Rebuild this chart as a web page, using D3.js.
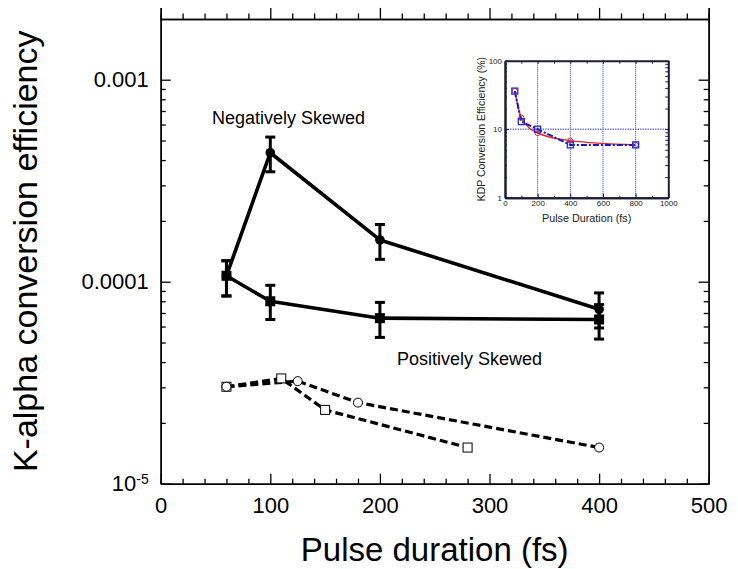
<!DOCTYPE html>
<html>
<head>
<meta charset="utf-8">
<script src="https://cdn.jsdelivr.net/npm/d3@7"></script>
<style>
  body { margin: 0; background: #fff; }
  svg { font-family: Arial, "Liberation Sans", sans-serif; }
</style>
</head>
<body>
<div id="chart"></div>
<script>
// ---- data ----
var pulseX = [60, 100, 200, 400];

// negatively skewed (filled circles, error bars)
var negY  = [1.07e-4, 4.35e-4, 1.61e-4, 7.3e-5];
var negHi = [1.27e-4, 5.2e-4, 1.92e-4, 8.8e-5];
var negLo = [8.5e-5, 3.5e-4, 1.29e-4, 5.9e-5];

// positively skewed (filled squares, error bars)
var posY  = [1.07e-4, 8.0e-5, 6.6e-5, 6.5e-5];
var posHi = [1.27e-4, 9.6e-5, 7.9e-5, 7.7e-5];
var posLo = [8.5e-5, 6.5e-5, 5.3e-5, 5.2e-5];

// dashed series (open markers)
var circX = [60, 125, 180, 400];
var circY = [3.02e-5, 3.22e-5, 2.52e-5, 1.51e-5];
var sqX = [60, 110, 150, 280];
var sqY = [3.02e-5, 3.32e-5, 2.32e-5, 1.51e-5];

// inset: KDP conversion efficiency (%)
var insetX = [60, 100, 200, 400, 800];
var insetRed  = [36, 14.7, 8.8, 6.8, 5.9];
var insetBlue = [36, 12.9, 10, 5.9, 5.9];

var xTicks = [0, 100, 200, 300, 400, 500];
var yTicks = [1e-5, 1e-4, 1e-3];
var insetXTicks = [0, 200, 400, 600, 800, 1000];
var insetYTicks = [1, 10, 100];

//************************ main chart *************************
var W = 738, H = 569;
var margin = {left: 160.7, right: 29.3, top: 18.9, bottom: 85.3};

var svg = d3.select("#chart").append("svg")
    .attr("width", W).attr("height", H);

var x = d3.scaleLinear().domain([0, 500]).range([margin.left, W - margin.right]);
var y = d3.scaleLog().domain([1e-5, 2e-3]).range([H - margin.bottom, margin.top]);

var minorY = [];
[1e-5, 1e-4, 1e-3].forEach(function(d){
    for (var k = 2; k <= 9; k++) { if (d * k < 2e-3) minorY.push(d * k); }
});
var minorX = d3.range(0, 501, 20).filter(function(d){ return d % 100 !== 0; });

function styleAxis(g) {
    g.select(".domain").attr("stroke", "#000").attr("stroke-width", 1.5);
    g.selectAll(".tick line").attr("stroke", "#000").attr("stroke-width", 1.3);
    g.selectAll(".tick text").attr("fill", "#000").attr("font-size", "22px");
}

// bottom: ticks inside
svg.append("g").attr("transform", "translate(0," + y.range()[0] + ")")
    .call(d3.axisBottom(x).tickValues(xTicks).tickSizeInner(-10).tickSizeOuter(0).tickPadding(14).tickFormat(d3.format("d")))
    .call(styleAxis);
svg.append("g").attr("transform", "translate(0," + y.range()[0] + ")")
    .call(d3.axisBottom(x).tickValues(minorX).tickSizeInner(-5).tickSizeOuter(0).tickFormat(""))
    .call(styleAxis);

// top: ticks outside
svg.append("g").attr("transform", "translate(0," + y.range()[1] + ")")
    .call(d3.axisTop(x).tickValues(xTicks).tickSize(11).tickFormat(""))
    .call(styleAxis);
svg.append("g").attr("transform", "translate(0," + y.range()[1] + ")")
    .call(d3.axisTop(x).tickValues(minorX).tickSize(5.5).tickFormat(""))
    .call(styleAxis);

// left: ticks inside
var leftAxis = svg.append("g").attr("transform", "translate(" + x.range()[0] + ",0)")
    .call(d3.axisLeft(y).tickValues(yTicks).tickSizeInner(-10).tickSizeOuter(0).tickPadding(12)
        .tickFormat(function(d){ return d === 1e-3 ? "0.001" : d === 1e-4 ? "0.0001" : "10"; }))
    .call(styleAxis);
leftAxis.selectAll(".tick text").filter(function(d){ return d === 1e-5; })
    .append("tspan").attr("dy", "-0.55em").attr("font-size", "14px").text("-5");
svg.append("g").attr("transform", "translate(" + x.range()[0] + ",0)")
    .call(d3.axisLeft(y).tickValues(minorY).tickSizeInner(-5).tickSizeOuter(0).tickFormat(""))
    .call(styleAxis);

// right: ticks inside
svg.append("g").attr("transform", "translate(" + x.range()[1] + ",0)")
    .call(d3.axisRight(y).tickValues(yTicks).tickSizeInner(-10).tickSizeOuter(0).tickFormat(""))
    .call(styleAxis);
svg.append("g").attr("transform", "translate(" + x.range()[1] + ",0)")
    .call(d3.axisRight(y).tickValues(minorY).tickSizeInner(-5).tickSizeOuter(0).tickFormat(""))
    .call(styleAxis);

// axis titles
svg.append("text")
    .attr("x", (x.range()[0] + x.range()[1]) / 2).attr("y", 561)
    .attr("text-anchor", "middle").attr("font-size", "33px").text("Pulse duration (fs)");
svg.append("text")
    .attr("transform", "translate(37," + ((y.range()[0] + y.range()[1]) / 2) + ") rotate(-90)")
    .attr("text-anchor", "middle").attr("font-size", "34px").text("K-alpha conversion efficiency");

// dashed series
function pts(xs, ys) { return xs.map(function(d, i){ return [d, ys[i]]; }); }
var line = d3.line().x(function(d){ return x(d[0]); }).y(function(d){ return y(d[1]); });

[pts(circX, circY), pts(sqX, sqY)].forEach(function(p){
    svg.append("path").attr("d", line(p)).attr("fill", "none")
        .attr("stroke", "#000").attr("stroke-width", 3.2).attr("stroke-dasharray", "8,4");
});
svg.selectAll(".osq").data(pts(sqX, sqY)).enter().append("rect")
    .attr("x", function(d){ return x(d[0]) - 4.5; }).attr("y", function(d){ return y(d[1]) - 4.5; })
    .attr("width", 9).attr("height", 9).attr("fill", "#fff").attr("stroke", "#000").attr("stroke-width", 1);
svg.selectAll(".ocirc").data(pts(circX, circY)).enter().append("circle")
    .attr("cx", function(d){ return x(d[0]); }).attr("cy", function(d){ return y(d[1]); })
    .attr("r", 4.5).attr("fill", "#fff").attr("stroke", "#000").attr("stroke-width", 1);

// solid series
svg.append("path").attr("d", line(pts(pulseX, negY))).attr("fill", "none")
    .attr("stroke", "#000").attr("stroke-width", 3.6).attr("stroke-linejoin", "round");
svg.append("path").attr("d", line(pts(pulseX, posY))).attr("fill", "none")
    .attr("stroke", "#000").attr("stroke-width", 3.6).attr("stroke-linejoin", "round");

function errBars(ys, hi, lo) {
    pulseX.forEach(function(d, i){
        var cx = x(d);
        svg.append("line").attr("x1", cx).attr("x2", cx).attr("y1", y(hi[i])).attr("y2", y(lo[i]))
            .attr("stroke", "#000").attr("stroke-width", 3);
        [hi[i], lo[i]].forEach(function(v){
            svg.append("line").attr("x1", cx - 5).attr("x2", cx + 5).attr("y1", y(v)).attr("y2", y(v))
                .attr("stroke", "#000").attr("stroke-width", 3);
        });
    });
}
errBars(negY, negHi, negLo);
errBars(posY, posHi, posLo);

svg.selectAll(".fcirc").data(pts(pulseX, negY)).enter().append("circle")
    .attr("cx", function(d){ return x(d[0]); }).attr("cy", function(d){ return y(d[1]); })
    .attr("r", 4.8).attr("fill", "#000");
svg.selectAll(".fsq").data(pts(pulseX, posY)).enter().append("rect")
    .attr("x", function(d){ return x(d[0]) - 5; }).attr("y", function(d){ return y(d[1]) - 5; })
    .attr("width", 10).attr("height", 10).attr("fill", "#000");

svg.append("text").attr("x", 212).attr("y", 124).attr("font-size", "18px").text("Negatively Skewed");
svg.append("text").attr("x", 397).attr("y", 365).attr("font-size", "18px").text("Positively Skewed");

//************************ inset *************************
var ix = d3.scaleLinear().domain([0, 1000]).range([505, 668.3]);
var iy = d3.scaleLog().domain([1, 100]).range([197.7, 60.7]);
var ins = svg.append("g");

// grid
ins.selectAll(".vg").data([200, 400, 600, 800]).enter().append("line")
    .attr("x1", ix).attr("x2", ix).attr("y1", iy.range()[0]).attr("y2", iy.range()[1])
    .attr("stroke", "#2b2bd6").attr("stroke-width", 1).attr("stroke-dasharray", "1,1");
ins.append("line").attr("x1", ix.range()[0]).attr("x2", ix.range()[1]).attr("y1", iy(10)).attr("y2", iy(10))
    .attr("stroke", "#7878e8").attr("stroke-width", 1.6).attr("stroke-dasharray", "1.5,1");

var iMinorY = [];
[1, 10].forEach(function(d){ for (var k = 2; k <= 9; k++) iMinorY.push(d * k); });
var iMinorX = d3.range(0, 1001, 100).filter(function(d){ return d % 200 !== 0; });

function styleInset(g) {
    g.select(".domain").attr("stroke", "#1c1c3a").attr("stroke-width", 2);
    g.selectAll(".tick line").attr("stroke", "#1c1c3a").attr("stroke-width", 1);
    g.selectAll(".tick text").attr("fill", "#222").attr("font-size", "8px");
}
ins.append("g").attr("transform", "translate(0," + iy.range()[0] + ")")
    .call(d3.axisBottom(ix).tickValues(insetXTicks).tickSizeInner(-4).tickSizeOuter(0).tickPadding(3).tickFormat(d3.format("d")))
    .call(styleInset);
ins.append("g").attr("transform", "translate(0," + iy.range()[0] + ")")
    .call(d3.axisBottom(ix).tickValues(iMinorX).tickSizeInner(-2).tickSizeOuter(0).tickFormat(""))
    .call(styleInset);
ins.append("g").attr("transform", "translate(0," + iy.range()[1] + ")")
    .call(d3.axisTop(ix).tickValues(insetXTicks.concat(iMinorX)).tickSizeInner(-3).tickSizeOuter(0).tickFormat(""))
    .call(styleInset);
ins.append("g").attr("transform", "translate(" + ix.range()[0] + ",0)")
    .call(d3.axisLeft(iy).tickValues(insetYTicks).tickSizeInner(-4).tickSizeOuter(0).tickPadding(3).tickFormat(d3.format("d")))
    .call(styleInset);
ins.append("g").attr("transform", "translate(" + ix.range()[0] + ",0)")
    .call(d3.axisLeft(iy).tickValues(iMinorY).tickSizeInner(-2).tickSizeOuter(0).tickFormat(""))
    .call(styleInset);
ins.append("g").attr("transform", "translate(" + ix.range()[1] + ",0)")
    .call(d3.axisRight(iy).tickValues(insetYTicks.concat(iMinorY)).tickSizeInner(-3).tickSizeOuter(0).tickFormat(""))
    .call(styleInset);

ins.append("text").attr("x", (ix.range()[0] + ix.range()[1]) / 2).attr("y", 222)
    .attr("text-anchor", "middle").attr("font-size", "10.8px").attr("fill", "#222").text("Pulse Duration (fs)");
ins.append("text").attr("transform", "translate(485," + ((iy.range()[0] + iy.range()[1]) / 2) + ") rotate(-90)")
    .attr("text-anchor", "middle").attr("font-size", "10.5px").attr("fill", "#222").text("KDP Conversion Efficiency (%)");

var iline = d3.line().x(function(d){ return ix(d[0]); }).y(function(d){ return iy(d[1]); });
ins.append("path").attr("d", iline.curve(d3.curveMonotoneX)(pts(insetX, insetRed)))
    .attr("fill", "none").attr("stroke", "#e8262a").attr("stroke-width", 1.4);
ins.append("path").attr("d", iline.curve(d3.curveLinear)(pts(insetX, insetBlue)))
    .attr("fill", "none").attr("stroke", "#1616c8").attr("stroke-width", 2).attr("stroke-dasharray", "6,2,2,2");
ins.selectAll(".rc").data(pts(insetX, insetRed)).enter().append("circle")
    .attr("cx", function(d){ return ix(d[0]); }).attr("cy", function(d){ return iy(d[1]); })
    .attr("r", 2.6).attr("fill", "none").attr("stroke", "#e8262a").attr("stroke-width", 1);
ins.selectAll(".bs").data(pts(insetX, insetBlue)).enter().append("rect")
    .attr("x", function(d){ return ix(d[0]) - 3; }).attr("y", function(d){ return iy(d[1]) - 3; })
    .attr("width", 6).attr("height", 6).attr("fill", "none").attr("stroke", "#2b2bd6").attr("stroke-width", 1.3);
</script>
</body>
</html>
